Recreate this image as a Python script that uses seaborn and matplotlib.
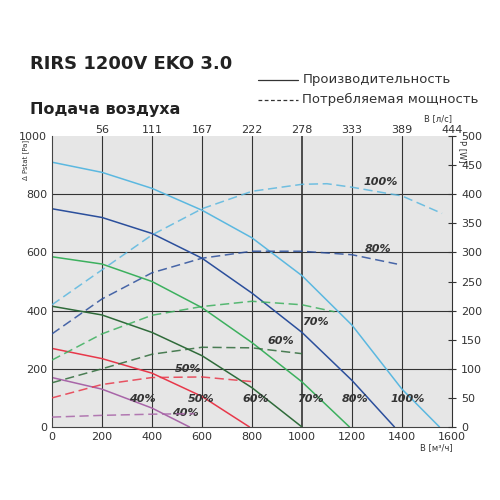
import numpy as np
import pandas as pd
import matplotlib
matplotlib.use('Agg')
import matplotlib.pyplot as plt
import seaborn as sns

# Pressure curves (Pa vs m3/h)
speeds = ['100%', '80%', '70%', '60%', '50%', '40%']
colors = ['#5bb8e0', '#2b4f9c', '#3cb05e', '#2f6b3a', '#e8384a', '#a865a8']
p_flow = {
    '100%': [0, 200, 400, 600, 800, 1000, 1200, 1400, 1550],
    '80%': [0, 200, 400, 600, 800, 1000, 1200, 1370],
    '70%': [0, 200, 400, 600, 800, 1000, 1190],
    '60%': [0, 200, 400, 600, 800, 1000],
    '50%': [0, 200, 400, 600, 790],
    '40%': [0, 200, 400, 550],
}
p_vals = {
    '100%': [910, 875, 820, 745, 650, 520, 350, 130, 0],
    '80%': [750, 720, 665, 580, 460, 325, 160, 0],
    '70%': [585, 560, 500, 410, 290, 155, 0],
    '60%': [415, 385, 325, 245, 135, 0],
    '50%': [270, 235, 185, 105, 0],
    '40%': [170, 130, 65, 0],
}
# Power curves (W vs m3/h)
w_flow = {
    '100%': [0, 200, 400, 600, 800, 1000, 1100, 1200, 1400, 1560],
    '80%': [0, 200, 400, 600, 800, 1000, 1200, 1380],
    '70%': [0, 200, 400, 600, 800, 1000, 1130],
    '60%': [0, 200, 400, 600, 800, 1000],
    '50%': [0, 200, 400, 600, 800],
    '40%': [0, 200, 400, 570],
}
w_vals = {
    '100%': [210, 270, 330, 375, 405, 417, 418, 412, 397, 367],
    '80%': [160, 220, 265, 290, 302, 302, 296, 280],
    '70%': [115, 160, 192, 207, 216, 210, 198],
    '60%': [76, 100, 125, 137, 136, 126],
    '50%': [50, 73, 85, 86, 78],
    '40%': [17, 20, 22, 23],
}
top_ticks = [200, 400, 600, 800, 1000, 1200, 1400, 1600]
top_labels = ['56', '111', '167', '222', '278', '333', '389', '444']

rows_p = [(f, v, s) for s in speeds for f, v in zip(p_flow[s], p_vals[s])]
df_p = pd.DataFrame(rows_p, columns=['flow', 'pa', 'speed'])
rows_w = [(f, v, s) for s in speeds for f, v in zip(w_flow[s], w_vals[s])]
df_w = pd.DataFrame(rows_w, columns=['flow', 'w', 'speed'])

sns.set_style('white')
fig = plt.figure(figsize=(5, 5), dpi=100)
ax = fig.add_axes([0.104, 0.146, 0.8, 0.582])
ax.set_facecolor('#e6e6e6')
pal = dict(zip(speeds, colors))

sns.lineplot(data=df_p, x='flow', y='pa', hue='speed', palette=pal, ax=ax,
             legend=False, lw=1.1, sort=False)
ax.set_xlim(0, 1600)
ax.set_ylim(0, 1000)
ax.set_xticks(range(0, 1601, 200))
ax.set_yticks(range(0, 1001, 200))
ax.tick_params(labelsize=8, length=0, colors='#333333')
ax.set_xlabel('')
ax.set_ylabel('')
for x in range(200, 1600, 200):
    ax.axvline(x, color='#222222' if x == 1000 else '#333333', lw=1.1 if x == 1000 else 0.8, zorder=0)
for y in range(200, 1000, 200):
    ax.axhline(y, color='#333333', lw=0.8, zorder=0)
for sp in ax.spines.values():
    sp.set_visible(False)
ax.spines['left'].set_visible(True)
ax.spines['bottom'].set_visible(True)
ax.spines['left'].set_color('#444444')
ax.spines['bottom'].set_color('#444444')

ax2 = ax.twinx()
sns.lineplot(data=df_w, x='flow', y='w', hue='speed', palette=pal, ax=ax2,
             legend=False, lw=1.1, sort=False, dashes=False)
for line in ax2.get_lines():
    line.set_linestyle((0, (6, 3)))
    line.set_alpha(0.85)
ax2.set_ylim(0, 500)
ax2.set_yticks(range(0, 501, 50))
ax2.tick_params(labelsize=8, direction='inout', length=6, colors='#333333')
ax2.set_ylabel('')
for sp in ax2.spines.values():
    sp.set_visible(False)
ax2.spines['right'].set_visible(True)
ax2.spines['right'].set_color('#333333')

ax3 = ax.twiny()
ax3.set_xlim(0, 1600)
ax3.set_xticks(top_ticks)
ax3.set_xticklabels(top_labels)
ax3.tick_params(labelsize=8, length=0, pad=1, colors='#333333')
for sp in ax3.spines.values():
    sp.set_visible(False)

# percentage labels
lab_kw = dict(fontsize=8, fontweight='bold', style='italic', color='#333333')
for x, y, t in [(1355, 85, '100%'), (1160, 85, '80%'), (980, 85, '70%'), (760, 85, '60%'),
                (545, 85, '50%'), (310, 85, '40%'), (480, 38, '40%'), (490, 190, '50%'),
                (860, 285, '60%'), (1000, 350, '70%')]:
    ax.text(x, y, t, **lab_kw)
for x, y, t in [(1245, 415, '100%'), (1250, 300, '80%')]:
    ax2.text(x, y, t, **lab_kw)

fig.text(0.06, 0.862, 'RIRS 1200V EKO 3.0', fontsize=13, fontweight='bold', color='#222222')
fig.text(0.06, 0.772, 'Подача воздуха', fontsize=11.5, fontweight='bold', color='#222222')
fig.lines.append(plt.Line2D([0.515, 0.595], [0.84, 0.84], transform=fig.transFigure, color='#333333', lw=0.9))
fig.lines.append(plt.Line2D([0.515, 0.595], [0.8, 0.8], transform=fig.transFigure, color='#333333', lw=0.9, ls=(0, (3, 2))))
fig.text(0.605, 0.833, 'Производительность', fontsize=9.5, color='#333333')
fig.text(0.605, 0.793, 'Потребляемая мощность', fontsize=9.5, color='#333333')
fig.text(0.905, 0.758, 'В [л/с]', fontsize=6, ha='right', color='#333333')
fig.text(0.915, 0.72, 'P [W]', fontsize=6, rotation=270, va='top', color='#333333')
fig.text(0.045, 0.72, 'Δ Pstat [Pa]', fontsize=5, rotation=90, va='top', color='#333333')
fig.text(0.905, 0.1, 'В [м³/ч]', fontsize=6, ha='right', color='#333333')

fig.savefig('out.png', dpi=100)
